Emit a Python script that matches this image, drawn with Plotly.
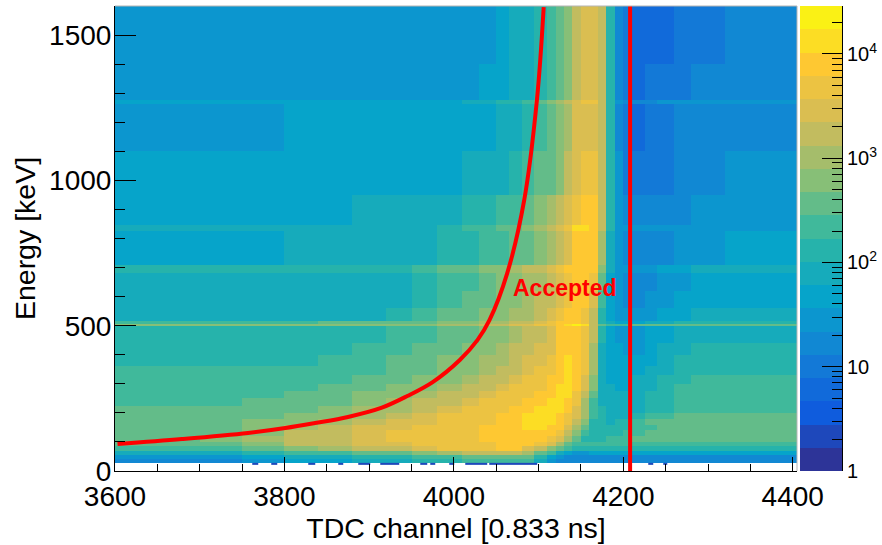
import numpy as np
import plotly.graph_objects as go

FONT = "Liberation Sans"
LOG_TOP = 4.46
N_BANDS = 20

x_edges = [3600,3650,3700,3750,3800,3840,3880,3920,3950,3980,4010,4030,4050,4065,4080,4095,
           4110,4120,4130,4140,4150,4160,4170,4180,4190,4200,4210,4225,4240,4260,4280,4320,4405]
y_edges = [28,40,55,70,85,100,120,140,160,180,200,225,250,275,300,330,360,400,440,498,507,516,
           560,620,680,710,825,845,950,1100,1262,1275,1400,1600]

# colour band (1-20, one band = 0.223 decades of counts) read for every cell
band_rows = [
 [6,6,6,7,8,8,9,9,10,10,11,11,11,11,11,9,7,6,6,6,6,6,6,6,6,6,6,6,6,6,6,6],
 [7,7,7,8,9,9,10,10,11,11,12,12,12,12,12,10,8,7,6,6,6,6,6,6,6,6,6,6,6,6,6,6],
 [9,9,9,10,11,11,12,12,13,14,15,15,15,15,14,12,11,9,8,7,7,8,8,8,8,8,8,8,8,8,8,8],
 [11,11,11,12,13,14,15,15,16,17,17,17,18,18,16,15,13,12,11,10,10,10,10,10,10,10,10,10,10,10,10,10],
 [12,12,12,13,15,15,16,16,17,17,17,17,18,18,18,17,16,14,12,11,11,11,11,11,11,11,11,11,11,11,11,11],
 [12,12,13,14,15,15,16,17,17,17,17,18,18,18,18,18,17,16,14,12,10,10,10,11,11,11,12,12,12,12,12,12],
 [12,12,12,13,15,15,16,17,17,17,17,18,18,18,18,18,18,17,15,13,11,10,10,10,10,11,11,12,12,12,12,12],
 [12,12,12,13,14,15,16,16,17,17,17,18,18,18,19,19,18,18,16,14,12,10,10,10,10,10,11,11,12,12,12,12],
 [12,12,12,13,13,14,15,16,16,17,17,17,18,18,19,19,19,18,17,15,13,10,10,9,10,10,11,12,12,12,12,12],
 [12,12,12,12,13,13,14,15,16,17,17,17,18,18,19,19,19,18,17,16,14,11,10,9,9,9,10,11,11,12,12,12],
 [12,12,12,12,12,13,14,14,15,16,17,17,17,18,18,19,19,19,18,16,14,11,10,9,9,9,9,10,10,11,11,11],
 [11,11,11,12,12,12,13,14,15,15,16,17,17,17,18,18,19,19,18,17,14,11,9,9,9,9,9,10,10,11,11,11],
 [11,11,11,11,12,12,13,13,14,15,15,16,17,17,17,18,18,19,19,17,15,12,9,9,9,9,9,10,10,11,11,11],
 [11,11,11,11,11,12,12,13,13,14,15,15,16,17,17,17,18,19,19,18,16,13,9,9,8,8,9,9,10,11,11,11],
 [11,11,11,11,11,11,12,12,13,13,14,15,15,16,17,17,18,18,19,18,16,13,9,8,8,8,9,9,10,10,11,11],
 [11,11,11,11,11,11,11,12,12,13,13,14,15,15,16,17,17,18,19,18,17,14,9,8,8,8,8,9,9,10,10,10],
 [10,10,10,10,10,11,11,12,12,13,13,14,14,15,16,16,17,18,19,18,17,14,9,8,8,8,8,8,9,10,10,10],
 [10,10,10,10,10,10,11,11,12,12,13,13,14,15,15,16,16,18,18,18,17,14,9,8,8,7,7,8,9,9,10,10],
 [10,10,10,10,10,10,10,11,11,12,12,13,13,14,15,15,16,18,18,18,17,15,10,8,7,7,7,8,8,9,9,9],
 [13,13,13,13,13,13,13,13,13,14,14,15,15,16,16,17,17,18,19,20,19,15,12,11,11,11,12,12,12,12,12,12],
 [11,11,11,11,11,12,12,12,12,13,13,14,14,15,15,16,17,18,18,18,17,15,10,9,8,8,8,9,9,10,10,10],
 [9,9,9,9,9,9,9,10,11,12,12,13,13,14,14,15,16,17,18,18,17,15,10,8,7,7,7,7,8,8,9,9],
 [9,9,9,9,9,9,9,9,10,11,12,12,13,13,14,15,15,16,17,18,18,16,11,8,7,6,6,7,7,8,8,8],
 [9,9,9,9,9,9,9,9,10,11,11,12,13,13,14,14,15,16,17,18,18,17,12,8,7,6,6,6,7,7,8,8],
 [10,10,10,10,10,10,10,10,11,12,12,13,13,14,15,15,16,17,18,18,18,18,13,9,7,7,7,7,8,8,9,9],
 [8,8,8,8,9,9,9,9,9,10,10,11,11,12,12,13,14,15,16,18,18,18,14,9,7,6,6,6,6,7,7,8],
 [9,9,9,9,9,9,9,9,9,10,11,11,12,12,13,14,15,16,17,19,19,18,15,10,7,7,7,7,7,7,7,7],
 [8,8,8,8,8,8,9,9,9,9,10,10,11,11,12,13,14,15,16,17,18,18,15,10,7,6,6,6,6,6,7,7],
 [8,8,8,8,8,8,8,8,8,8,9,9,9,10,11,12,12,13,15,16,17,17,15,10,7,5,5,5,5,6,6,7],
 [7,7,7,7,8,8,8,8,8,8,8,8,9,9,10,11,12,13,14,16,16,16,15,10,6,5,4,5,5,6,6,6],
 [8,8,8,8,8,8,8,8,8,8,9,9,10,10,11,12,13,14,15,16,17,17,15,10,7,6,6,6,7,7,7,7],
 [7,7,7,7,7,7,7,7,7,7,7,8,8,9,9,10,11,12,13,15,16,16,15,10,6,5,4,5,5,5,6,6],
 [7,7,7,7,7,7,7,7,7,7,7,7,8,9,9,10,11,12,13,15,16,16,15,10,6,5,4,4,4,5,5,6],
]

# isolated low-count bins just under the main map
gap_x_edges = [3762,3769,3785,3792,3828,3836,3863,3869,3887,3901,3913,3936,3960,3968,3972,3978,
               3995,4001,4013,4039,4042,4098,4229,4235,4247,4252]
gap_y_edges = [21,28]
gap_band = 2

curve_x = [3603,3679,3757,3801,3836,3875,3915,3945,3975,4007,4028,4042,4063,4083,4098,4106]
curve_y = [93,110,131,148,165,186,218,258,306,382,451,519,681,932,1276,1596]
cut_x = [4208,4208]
cut_y = [0,1600]

scale_ticks = [1,10,100,1000,10000]
scale_labels = ["1","10","10<sup>2</sup>","10<sup>3</sup>","10<sup>4</sup>"]

bird_pos = [0,.125,.25,.375,.5,.625,.75,.875,1]
bird_r = [.2082,.0592,.0780,.0232,.1802,.5301,.8186,.9956,.9764]
bird_g = [.1664,.3599,.5041,.6419,.7178,.7492,.7328,.7862,.9832]
bird_b = [.5293,.8684,.8385,.7914,.6425,.4662,.3499,.1968,.0539]

scale = []
for i in range(N_BANDS):
    t = (i + .5) / N_BANDS
    col = "rgb(%d,%d,%d)" % tuple(int(round(255 * np.interp(t, bird_pos, c))) for c in (bird_r, bird_g, bird_b))
    scale += [[i / N_BANDS, col], [(i + 1) / N_BANDS, col]]


def to_log(b):
    return (b - .5) * LOG_TOP / N_BANDS


z = to_log(np.array(band_rows, dtype=float))
gap_z = [[to_log(gap_band) if i % 2 == 0 else None for i in range(len(gap_x_edges) - 1)]]
strip_edges = [10 ** (i * LOG_TOP / N_BANDS) for i in range(N_BANDS + 1)]
strip_z = [[to_log(i + 1)] for i in range(N_BANDS)]

# layout in pixels
W, H = 882, 545
L, R, T, B = 115, 4, 6, 74
plot_w = W - L - R
main_right = (797 - L) / plot_w
bar_left = (800 - L) / plot_w
bar_right = (842 - L) / plot_w

fig = go.Figure()
fig.add_trace(go.Heatmap(x=x_edges, y=y_edges, z=z, coloraxis="coloraxis", hoverinfo="skip"))
fig.add_trace(go.Heatmap(x=gap_x_edges, y=gap_y_edges, z=gap_z, coloraxis="coloraxis", hoverinfo="skip"))
fig.add_trace(go.Scatter(x=curve_x, y=curve_y, mode="lines", line=dict(color="#ff0000", width=4, shape="spline", smoothing=1), showlegend=False))
fig.add_trace(go.Scatter(x=cut_x, y=cut_y, mode="lines", line=dict(color="#ff0000", width=4), showlegend=False))
fig.add_trace(go.Heatmap(x=[0, 1], y=strip_edges, z=strip_z, xaxis="x2", yaxis="y2", coloraxis="coloraxis", hoverinfo="skip"))

minor_vals = [m * 10 ** d for d in range(5) for m in range(2, 10) if m * 10 ** d < 10 ** LOG_TOP]

fig.update_layout(
    width=W, height=H, autosize=False,
    margin=dict(l=L, r=R, t=T, b=B, autoexpand=False),
    paper_bgcolor="white", plot_bgcolor="white",
    font=dict(family=FONT, size=28, color="black"),
    showlegend=False,
    coloraxis=dict(colorscale=scale, cmin=0, cmax=LOG_TOP, showscale=False),
    xaxis=dict(
        domain=[0, main_right], range=[3600, 4405], tick0=3600, dtick=200,
        ticks="inside", ticklen=14, tickwidth=1, tickcolor="black",
        minor=dict(dtick=50, tick0=3600, ticks="inside", ticklen=7, tickwidth=1, tickcolor="black"),
        showline=True, linecolor="black", linewidth=1, showgrid=False, zeroline=False,
        title=dict(text="TDC channel [0.833 ns]", standoff=5, font=dict(size=28.5)), anchor="y",
    ),
    yaxis=dict(
        range=[0, 1600], tick0=0, dtick=500, ticklabelstandoff=-3,
        ticks="inside", ticklen=21, tickwidth=1, tickcolor="black",
        minor=dict(dtick=100, tick0=0, ticks="inside", ticklen=10, tickwidth=1, tickcolor="black"),
        showline=True, linecolor="black", linewidth=1, showgrid=False, zeroline=False,
        title=dict(text="Energy [keV]", standoff=5, font=dict(size=28.5)), anchor="x",
    ),
    xaxis2=dict(domain=[bar_left, bar_right], range=[0, 1], visible=False, anchor="y2"),
    yaxis2=dict(
        type="log", range=[0, LOG_TOP], anchor="x2", side="right", domain=[0, 1],
        showline=True, linecolor="black", linewidth=1, showgrid=False, zeroline=False,
        ticks="inside", ticklen=20, tickwidth=1, tickcolor="black",
        tickmode="array", tickvals=scale_ticks, ticktext=scale_labels,
        tickfont=dict(family=FONT, size=20, color="black"),
        minor=dict(tickmode="array", tickvals=minor_vals, ticks="inside", ticklen=10, tickwidth=1, tickcolor="black", showgrid=False),
    ),
    annotations=[dict(x=4131, y=630, text="Accepted", showarrow=False,
                      font=dict(family=FONT, size=23, color="#ff0000", weight="bold"))],
    shapes=[
        dict(type="line", xref="x domain", yref="y domain", x0=0, x1=1, y0=1, y1=1, line=dict(color="#b5b5b5", width=1), layer="above"),
        dict(type="line", xref="x domain", yref="y domain", x0=1, x1=1, y0=0, y1=1, line=dict(color="#b5b5b5", width=1), layer="above"),
    ],
)
fig.write_html("out.html", config=dict(displayModeBar=False), post_script="document.body.style.margin='0';")
